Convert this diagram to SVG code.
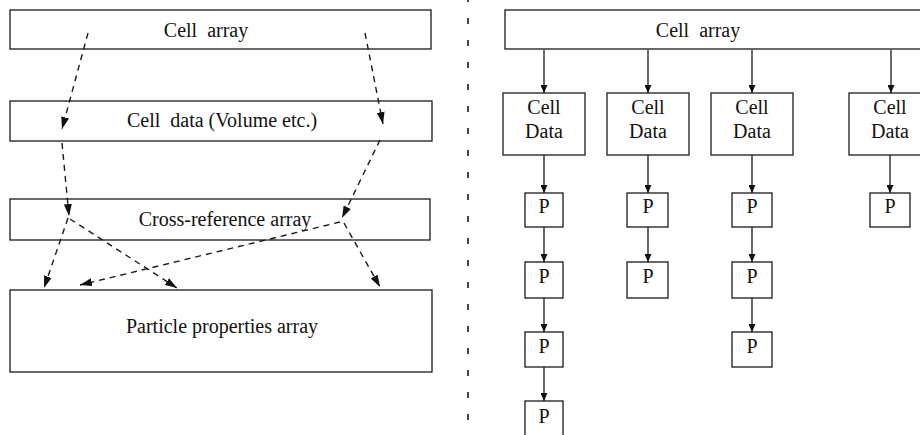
<svg xmlns="http://www.w3.org/2000/svg" width="920" height="435" viewBox="0 0 920 435">
<style>
.box{fill:#fff;stroke:#1a1a1a;stroke-width:1.3}
.t{font-family:"Liberation Serif","Times New Roman",serif;font-size:20px;fill:#111;text-anchor:middle}
.ws{word-spacing:5px}
.dash{fill:none;stroke:#1a1a1a;stroke-width:1.4;stroke-dasharray:6 5}
.sol{fill:none;stroke:#1a1a1a;stroke-width:1.3}
.div{fill:none;stroke:#1a1a1a;stroke-width:1.6;stroke-dasharray:6 16}
</style>
<defs>
<marker id="ah" viewBox="0 0 12 8" refX="12" refY="4" markerWidth="12" markerHeight="8" markerUnits="userSpaceOnUse" orient="auto">
<path d="M0,0 L12,4 L0,8 Z" fill="#111"/>
</marker>
<marker id="as" viewBox="0 0 8 7" refX="8" refY="3.5" markerWidth="8" markerHeight="7" markerUnits="userSpaceOnUse" orient="auto">
<path d="M0,0 L8,3.5 L0,7 Z" fill="#111"/>
</marker>
</defs>
<rect width="920" height="435" fill="#fff"/>
<g id="left-cell-array"><rect class="box" x="10" y="10" width="421" height="39"/><text class="t ws" x="206" y="37">Cell array</text></g>
<g id="left-cell-data"><rect class="box" x="10" y="101" width="422" height="40"/><text class="t" x="222" y="127">Cell<tspan dx="5"> data (Volume etc.)</tspan></text></g>
<g id="cross-ref"><rect class="box" x="10" y="199" width="420" height="41"/><text class="t" x="225" y="226">Cross-reference array</text></g>
<g id="particle-props"><rect class="box" x="10" y="290" width="422" height="82"/><text class="t" x="222" y="333">Particle properties array</text></g>
<g id="divider"><line class="div" x1="468" y1="-4" x2="468" y2="435"/></g>
<g id="right-cell-array"><rect class="box" x="505" y="10" width="440" height="39"/><text class="t ws" x="698" y="37">Cell array</text></g>
<g id="cd1"><rect class="box" x="503" y="93" width="82" height="62"/><text class="t" x="544" y="114">Cell</text><text class="t" x="544" y="138">Data</text></g>
<g id="cd2"><rect class="box" x="607" y="93" width="82" height="62"/><text class="t" x="648" y="114">Cell</text><text class="t" x="648" y="138">Data</text></g>
<g id="cd3"><rect class="box" x="711" y="93" width="82" height="62"/><text class="t" x="752" y="114">Cell</text><text class="t" x="752" y="138">Data</text></g>
<g id="cd4"><rect class="box" x="849" y="93" width="82" height="62"/><text class="t" x="890" y="114">Cell</text><text class="t" x="890" y="138">Data</text></g>
<g id="p1a"><rect class="box" x="525" y="193" width="38" height="34"/><text class="t" x="544" y="213">P</text></g>
<g id="p1b"><rect class="box" x="525" y="262" width="38" height="36"/><text class="t" x="544" y="283">P</text></g>
<g id="p1c"><rect class="box" x="525" y="332" width="38" height="35"/><text class="t" x="544" y="353">P</text></g>
<g id="p1d"><rect class="box" x="525" y="401" width="38" height="40"/><text class="t" x="544" y="423">P</text></g>
<g id="p2a"><rect class="box" x="627" y="193" width="41" height="34"/><text class="t" x="648" y="213">P</text></g>
<g id="p2b"><rect class="box" x="627" y="262" width="41" height="36"/><text class="t" x="648" y="283">P</text></g>
<g id="p3a"><rect class="box" x="732" y="193" width="40" height="34"/><text class="t" x="752" y="213">P</text></g>
<g id="p3b"><rect class="box" x="732" y="262" width="40" height="36"/><text class="t" x="752" y="283">P</text></g>
<g id="p3c"><rect class="box" x="732" y="332" width="40" height="35"/><text class="t" x="752" y="353">P</text></g>
<g id="p4a"><rect class="box" x="870" y="193" width="40" height="34"/><text class="t" x="890" y="213">P</text></g>
<g id="connectors">
<line class="dash" x1="88" y1="33" x2="62" y2="129" marker-end="url(#ah)"/>
<line class="dash" x1="62" y1="143" x2="69" y2="216" marker-end="url(#ah)"/>
<line class="dash" x1="365" y1="33" x2="383" y2="124" marker-end="url(#ah)"/>
<line class="dash" x1="380" y1="140" x2="342" y2="218" marker-end="url(#ah)"/>
<line class="dash" x1="68" y1="218" x2="44" y2="288" marker-end="url(#ah)"/>
<line class="dash" x1="70" y1="219" x2="177" y2="288" marker-end="url(#ah)"/>
<line class="dash" x1="340" y1="222" x2="80" y2="285" marker-end="url(#ah)"/>
<line class="dash" x1="344" y1="223" x2="380" y2="287" marker-end="url(#ah)"/>
<line class="sol" x1="544" y1="50" x2="544" y2="93" marker-end="url(#as)"/>
<line class="sol" x1="648" y1="50" x2="648" y2="93" marker-end="url(#as)"/>
<line class="sol" x1="752" y1="50" x2="752" y2="93" marker-end="url(#as)"/>
<line class="sol" x1="891" y1="50" x2="891" y2="93" marker-end="url(#as)"/>
<line class="sol" x1="544" y1="155" x2="544" y2="193" marker-end="url(#as)"/>
<line class="sol" x1="648" y1="155" x2="648" y2="193" marker-end="url(#as)"/>
<line class="sol" x1="752" y1="155" x2="752" y2="193" marker-end="url(#as)"/>
<line class="sol" x1="890" y1="155" x2="890" y2="193" marker-end="url(#as)"/>
<line class="sol" x1="544" y1="227" x2="544" y2="262" marker-end="url(#as)"/>
<line class="sol" x1="544" y1="298" x2="544" y2="332" marker-end="url(#as)"/>
<line class="sol" x1="544" y1="367" x2="544" y2="401" marker-end="url(#as)"/>
<line class="sol" x1="648" y1="227" x2="648" y2="262" marker-end="url(#as)"/>
<line class="sol" x1="752" y1="227" x2="752" y2="262" marker-end="url(#as)"/>
<line class="sol" x1="752" y1="298" x2="752" y2="332" marker-end="url(#as)"/>
</g>
</svg>
